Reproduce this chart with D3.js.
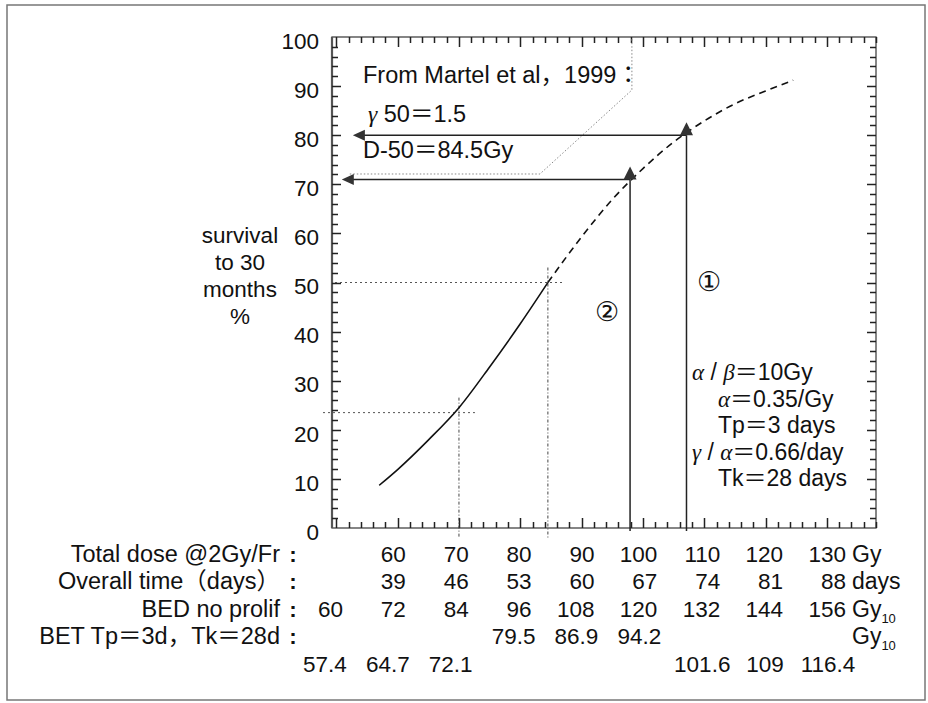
<!DOCTYPE html>
<html>
<head>
<meta charset="utf-8">
<script src="https://cdn.jsdelivr.net/npm/d3@7"></script>
<style>
body { margin: 0; background: #fff; }
svg text { font-family: "Liberation Sans", Arial, Helvetica, sans-serif; fill: #111; }
</style>
</head>
<body>
<div id="chart"></div>
<script>
// dose-response: total dose (Gy @2Gy/Fr) vs survival %
var fitDose = [57, 60, 65, 70, 75, 80, 84.5];
var fitSurv = [8.7, 11.9, 17.9, 24.5, 32.8, 41.6, 50];
var extDose = [84.5, 90, 95, 100, 105, 110, 115, 120, 124.5];
var extSurv = [50, 59.3, 66.9, 73.2, 78.6, 82.9, 86.4, 89.0, 91.2];

// table under the x axis, one column per dose
var colDose = [50, 60, 70, 80, 90, 100, 110, 120, 130];
var totalDose = [null, 60, 70, 80, 90, 100, 110, 120, 130];
var overallTime = [null, 39, 46, 53, 60, 67, 74, 81, 88];
var bedNoProlif = [60, 72, 84, 96, 108, 120, 132, 144, 156];
var betValues = [57.4, 64.7, 72.1, 79.5, 86.9, 94.2, 101.6, 109, 116.4];
var rowLabels = ["Total dose @2Gy/Fr", "Overall time（days）", "BED no prolif", "BET Tp＝3d，Tk＝28d"];
var rowUnits = ["Gy", "days", "Gy10", "Gy10"];

var yTicks = [0, 10, 20, 30, 40, 50, 60, 70, 80, 90, 100];
var yTitle = ["survival", "to 30", "months", "%"];

// dotted reference lines (70 Gy -> 23.5 %, D50 84.5 Gy -> 50 %)
var refDose = [70, 84.5];
var refSurv = [23.5, 50];

// arrows (1) and (2)
var arrowNames = ["①", "②"];
var arrowDose = [107.1, 97.9];
var arrowSurv = [80, 71];
var arrowTipDose = [52.7, 50.9];

// dotted callout from the Martel note
var calloutDose = [52.2, 83.2, 98.2, 98.2];
var calloutSurv = [72.1, 72.1, 89.2, 99.8];

var noteLines = ["From Martel et al，1999：", "γ 50＝1.5", "D-50＝84.5Gy"];
var paramLines = ["α / β＝10Gy", "α＝0.35/Gy", "Tp＝3 days", "γ / α＝0.66/day", "Tk＝28 days"];

var width = 928, height = 703;
var x = d3.scaleLinear().domain([49.3, 138]).range([332, 876]);
var y = d3.scaleLinear().domain([0, 100]).range([528, 37]);
var colRight = d3.scaleLinear().domain([50, 130]).range([343, 846]);
var fs = 22.5;

var svg = d3.select("#chart").append("svg")
    .attr("width", width).attr("height", height);

// outer frame
svg.append("rect")
    .attr("x", 7).attr("y", 5).attr("width", 918).attr("height", 695)
    .attr("fill", "none").attr("stroke", "#777").attr("stroke-width", 1.5);

// rich text: greek letters in italic serif, full-width signs from the CJK font
function richText(sel, str) {
    str.split(/([αβγ]|[＝，：（）])/).forEach(function(part) {
        if (!part) return;
        var t = sel.append("tspan").text(part);
        if (/[αβγ]/.test(part)) t.style("font-family", "'Liberation Serif', serif").style("font-style", "italic");
        else if (/[＝，：（）]/.test(part)) t.style("font-family", "'Noto Sans CJK JP', 'Noto Sans CJK SC', sans-serif");
    });
}

var x0 = x.range()[0], x1 = x.range()[1], yb = y(0), yt = y(100);

// plot frame
svg.append("rect")
    .attr("x", x0).attr("y", yt).attr("width", x1 - x0).attr("height", yb - yt)
    .attr("fill", "none").attr("stroke", "#444").attr("stroke-width", 1.3);
svg.append("line")
    .attr("x1", x0).attr("x2", x0).attr("y1", yt).attr("y2", yb)
    .attr("stroke", "#555").attr("stroke-width", 2.2);

// ticks on all four sides, pointing inward (every 2 units, longer every 10)
var xt = d3.range(50, 139, 2), yv = d3.range(2, 100, 2);
var tickPath = "";
xt.forEach(function(d) {
    var len = d % 10 === 0 ? 10 : 6, px = Math.round(x(d)) + 0.5;
    tickPath += "M" + px + "," + yb + "V" + (yb - len);
    tickPath += "M" + px + "," + yt + "V" + (yt + len);
});
yv.forEach(function(v) {
    var len = v % 10 === 0 ? 9 : 6, py = Math.round(y(v)) + 0.5;
    tickPath += "M" + x0 + "," + py + "H" + (x0 + len);
    tickPath += "M" + x1 + "," + py + "H" + (x1 - len);
});
svg.append("path").attr("d", tickPath)
    .attr("fill", "none").attr("stroke", "#222").attr("stroke-width", 1.5);

// y tick labels
svg.append("g").selectAll("text").data(yTicks).enter().append("text")
    .attr("x", x0 - 13).attr("y", function(v) { return y(v); }).attr("dy", "0.52em")
    .attr("text-anchor", "end").style("font-size", fs + "px")
    .text(function(v) { return v; });

// dotted reference lines
var hStart = [-9, 3];
refDose.forEach(function(d, i) {
    svg.append("line")
        .attr("x1", x0 + hStart[i]).attr("x2", x(d) + 16)
        .attr("y1", y(refSurv[i])).attr("y2", y(refSurv[i]))
        .attr("stroke", "#555").attr("stroke-width", 1).attr("stroke-dasharray", "2,3");
    svg.append("line")
        .attr("x1", x(d)).attr("x2", x(d))
        .attr("y1", y(refSurv[i]) - 15).attr("y2", yb + 10)
        .attr("stroke", "#444").attr("stroke-width", 1).attr("stroke-dasharray", "3,2,1,2");
});

// callout
svg.append("path")
    .datum(d3.zip(calloutDose, calloutSurv))
    .attr("d", d3.line().x(function(d) { return x(d[0]); }).y(function(d) { return y(d[1]); }))
    .attr("fill", "none").attr("stroke", "#888").attr("stroke-width", 1).attr("stroke-dasharray", "1.5,2");

// curves
var line = d3.line()
    .x(function(d) { return x(d[0]); })
    .y(function(d) { return y(d[1]); })
    .curve(d3.curveMonotoneX);
svg.append("path").datum(d3.zip(fitDose, fitSurv)).attr("d", line)
    .attr("fill", "none").attr("stroke", "#111").attr("stroke-width", 1.6);
svg.append("path").datum(d3.zip(extDose, extSurv)).attr("d", line)
    .attr("fill", "none").attr("stroke", "#111").attr("stroke-width", 1.6)
    .attr("stroke-dasharray", "7,5");

// arrows
arrowDose.forEach(function(d, i) {
    var ax = x(d), ay = y(arrowSurv[i]), tx = x(arrowTipDose[i]);
    svg.append("line").attr("x1", ax).attr("x2", ax).attr("y1", yb + 3).attr("y2", ay)
        .attr("stroke", "#222").attr("stroke-width", 1.5);
    svg.append("line").attr("x1", tx + 8).attr("x2", ax).attr("y1", ay).attr("y2", ay)
        .attr("stroke", "#222").attr("stroke-width", 1.5);
    svg.append("path")
        .attr("d", "M" + ax + "," + (ay - 13) + "L" + (ax - 6.5) + "," + ay + "L" + (ax + 6.5) + "," + ay + "Z")
        .attr("fill", "#333");
    svg.append("path")
        .attr("d", "M" + tx + "," + ay + "L" + (tx + 12) + "," + (ay - 5.5) + "L" + (tx + 12) + "," + (ay + 5.5) + "Z")
        .attr("fill", "#333");
    svg.append("text")
        .attr("x", ax + (i === 0 ? 23 : -23)).attr("y", i === 0 ? 282 : 312).attr("dy", "0.35em")
        .attr("text-anchor", "middle").style("font-size", "27px")
        .text(arrowNames[i]);
});

// y title
yTitle.forEach(function(s, i) {
    svg.append("text").attr("x", 240).attr("y", 243 + i * 27)
        .attr("text-anchor", "middle").style("font-size", fs + "px").text(s);
});

// Martel note
var noteX = [363, 368, 363], noteY = [83, 122, 158];
noteLines.forEach(function(s, i) {
    var t = svg.append("text").attr("x", noteX[i]).attr("y", noteY[i]).style("font-size", "23.5px");
    richText(t, s);
});

// model parameters
var parX = [692, 718, 718, 692, 718];
paramLines.forEach(function(s, i) {
    var t = svg.append("text").attr("x", parX[i]).attr("y", 380 + i * 26.6).style("font-size", "23px");
    richText(t, s);
});

// table
var rowY = [562, 589, 617, 644, 672];
rowLabels.forEach(function(s, i) {
    var t = svg.append("text").attr("x", 280).attr("y", rowY[i])
        .attr("text-anchor", "end").style("font-size", "23.5px");
    richText(t, s);
    svg.append("text").attr("x", 293).attr("y", rowY[i])
        .attr("text-anchor", "middle").style("font-size", fs + "px").style("font-weight", "bold").text(":");
    var u = svg.append("text").attr("x", colRight(130) + 6).attr("y", rowY[i]).style("font-size", "23px");
    u.append("tspan").text(rowUnits[i].replace("10", ""));
    if (rowUnits[i].indexOf("10") > 0) {
        u.append("tspan").attr("dy", 6).style("font-size", "13px").text("10");
    }
});

function tableRow(values, row, anchor, shift) {
    svg.append("g").selectAll("text")
        .data(values.map(function(v, i) { return {v: v, d: colDose[i]}; }).filter(function(o) { return o.v !== null; }))
        .enter().append("text")
        .attr("x", function(o) { return colRight(o.d) + shift; })
        .attr("y", rowY[row])
        .attr("text-anchor", anchor)
        .style("font-size", fs + "px")
        .text(function(o) { return o.v; });
}
tableRow(totalDose, 0, "end", 0);
tableRow(overallTime, 1, "end", 0);
tableRow(bedNoProlif, 2, "end", 0);
// BET: 80-100 Gy columns share the label line, the rest go one line lower
tableRow(betValues.map(function(v, i) { return colDose[i] >= 80 && colDose[i] <= 100 ? v : null; }), 3, "middle", -18);
tableRow(betValues.map(function(v, i) { return colDose[i] >= 80 && colDose[i] <= 100 ? null : v; }), 4, "middle", -18);
</script>
</body>
</html>
